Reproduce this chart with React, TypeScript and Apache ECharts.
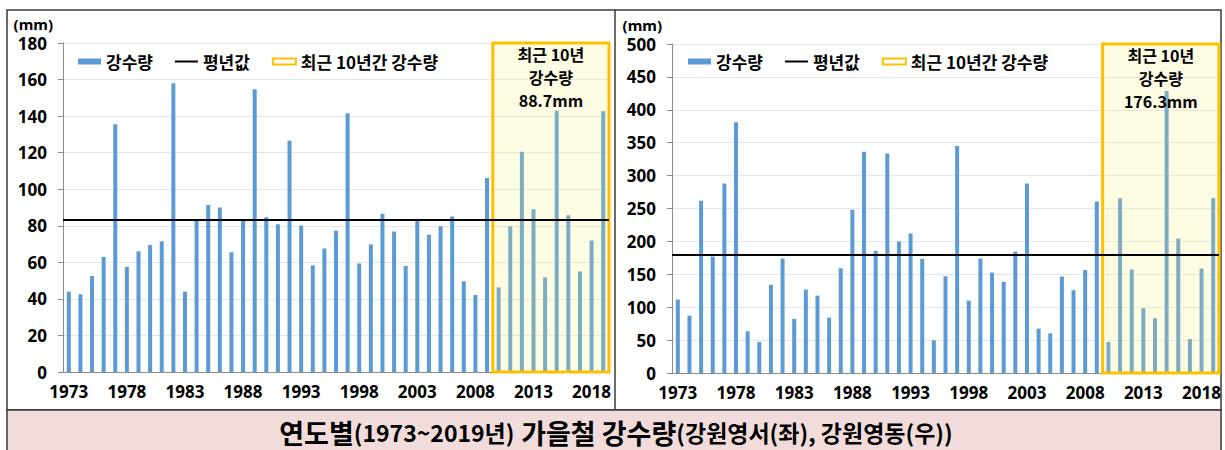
import { useEffect, useRef } from 'react';
import * as echarts from 'echarts';

const years = [
  '1973', '1974', '1975', '1976', '1977', '1978', '1979', '1980', '1981', '1982',
  '1983', '1984', '1985', '1986', '1987', '1988', '1989', '1990', '1991', '1992',
  '1993', '1994', '1995', '1996', '1997', '1998', '1999', '2000', '2001', '2002',
  '2003', '2004', '2005', '2006', '2007', '2008', '2009', '2010', '2011', '2012',
  '2013', '2014', '2015', '2016', '2017', '2018', '2019',
];

// 강원영서 (left)
const westRain = [
  44, 42.5, 52.5, 63, 135.5, 57.5, 66, 69.5, 71.5, 158,
  44, 83, 91.3, 90, 65.5, 83, 154.7, 84.6, 80.9, 126.5,
  80.2, 58.3, 67.6, 77.3, 141.6, 59.4, 69.8, 86.6, 76.9, 58,
  82.9, 75.1, 79.8, 85.1, 49.6, 42.1, 106.2, 46.3, 79.8, 120.5,
  89.1, 51.8, 142.9, 85.8, 55, 72, 142.7,
];

// 강원영동 (right)
const eastRain = [
  111.6, 87.2, 261.7, 177, 288, 381, 63.4, 47.2, 133.9, 173.9,
  82.2, 126.8, 117.6, 84.2, 159.2, 248, 336.2, 185.6, 333.6, 199.8,
  212, 173.4, 49.7, 147, 345, 110, 174, 152.6, 138.4, 184.6,
  288, 67.4, 60.3, 146.6, 125.8, 156.7, 260.6, 47.2, 265.7, 157.2,
  98.4, 83.2, 428.4, 204.4, 51.7, 158.7, 265.7,
];

const westNormal = 83.2;
const eastNormal = 179;
const westRecentLabel = '최근 10년\n강수량\n88.7mm';
const eastRecentLabel = '최근 10년\n강수량\n176.3mm';
const recentStartYear = '2010';

const westAxis = { max: 180, interval: 20 };
const eastAxis = { max: 500, interval: 50 };

const NAME_RAIN = '강수량';
const NAME_NORMAL = '평년값';
const NAME_RECENT = '최근 10년간 강수량';

const titleText =
  '{a|연도별}{b|(1973~2019년)}  {a|가을철 강수량}{b|(강원영서(좌), 강원영동(우))}';

const BLUE = '#5B9BD5';
const YELLOW = '#FFC000';
const KFONT = "'Noto Sans CJK KR', 'Noto Sans', sans-serif";
const NFONT = "'Noto Sans', 'Noto Sans CJK KR', sans-serif";

export default function App() {
  const ref = useRef<HTMLDivElement>(null);

  useEffect(() => {
    if (!ref.current) return;
    const chart = echarts.init(ref.current, undefined, { renderer: 'svg' });
    const recentIdx = years.indexOf(recentStartYear);

    const grids = [
      { left: 63, top: 43, width: 546, height: 329 },
      { left: 672, top: 44, width: 547, height: 329 },
    ];

    const catAxis = (gridIndex: number) => ({
      type: 'category',
      gridIndex,
      data: years,
      boundaryGap: true,
      axisLine: { lineStyle: { color: '#8C8C8C', width: 1 } },
      axisTick: { interval: 4, length: 5, lineStyle: { color: '#8C8C8C' } },
      axisLabel: {
        interval: 4,
        margin: 11,
        color: '#000',
        fontFamily: NFONT,
        fontWeight: 'bold',
        fontSize: 17,
      },
    });

    const valAxis = (gridIndex: number, ax: { max: number; interval: number }) => ({
      type: 'value',
      gridIndex,
      min: 0,
      max: ax.max,
      interval: ax.interval,
      name: '(mm)',
      nameLocation: 'end',
      nameGap: 12,
      nameTextStyle: {
        align: 'right',
        padding: [0, 10, 0, 0],
        color: '#000',
        fontFamily: NFONT,
        fontWeight: 'bold',
        fontSize: 15,
      },
      axisLine: { show: true, lineStyle: { color: '#8C8C8C' } },
      axisTick: { show: true, length: 5, lineStyle: { color: '#8C8C8C' } },
      splitLine: { lineStyle: { color: '#E6E6E6' } },
      axisLabel: {
        margin: 16,
        color: '#000',
        fontFamily: NFONT,
        fontWeight: 'bold',
        fontSize: 17,
      },
    });

    const bandAxis = (gridIndex: number) => ({
      type: 'value',
      gridIndex,
      min: 0,
      max: years.length,
      show: false,
    });

    const makeSeries = (
      idx: number,
      values: number[],
      normal: number,
      top: number,
      label: string
    ) => [
      {
        name: NAME_RAIN,
        type: 'bar',
        xAxisIndex: idx,
        yAxisIndex: idx,
        data: values,
        barWidth: 4,
        itemStyle: { color: BLUE },
        z: 2,
      },
      {
        name: NAME_RECENT,
        type: 'line',
        xAxisIndex: idx + 2,
        yAxisIndex: idx,
        data: [],
        symbol: 'none',
        lineStyle: { color: YELLOW },
        z: 4,
        markArea: {
          silent: true,
          z: 3,
          itemStyle: {
            color: 'rgba(255,240,120,0.2)',
            borderColor: YELLOW,
            borderWidth: 3,
          },
          label: {
            show: true,
            position: 'insideTop',
            distance: 1,
            formatter: label,
            color: '#000',
            fontFamily: KFONT,
            fontWeight: 'bold',
            fontSize: 16,
            lineHeight: 23,
            align: 'center',
          },
          data: [[{ xAxis: recentIdx, yAxis: 0 }, { xAxis: years.length, yAxis: top }]],
        },
      },
      {
        name: NAME_NORMAL,
        type: 'line',
        xAxisIndex: idx + 2,
        yAxisIndex: idx,
        data: [],
        symbol: 'none',
        lineStyle: { color: '#000', width: 2 },
        z: 5,
        markLine: {
          silent: true,
          z: 5,
          symbol: 'none',
          label: { show: false },
          lineStyle: { color: '#000', width: 2, type: 'solid' },
          data: [{ yAxis: normal }],
        },
      },
    ];

    const legendBase = {
      top: 48,
      itemWidth: 23,
      itemHeight: 6,
      itemGap: 22,
      selectedMode: false,
      textStyle: {
        color: '#000',
        fontFamily: KFONT,
        fontWeight: 'bold',
        fontSize: 17,
      },
      data: [
        { name: NAME_RAIN, icon: 'rect' },
        {
          name: NAME_NORMAL,
          icon: 'path://M0,0 L23,0 L23,2 L0,2 Z',
          itemStyle: { color: '#000', borderWidth: 0 },
        },
        {
          name: NAME_RECENT,
          icon: 'rect',
          itemStyle: { color: '#FFFFFF', borderColor: YELLOW, borderWidth: 2 },
        },
      ],
    };

    chart.setOption({
      animation: false,
      backgroundColor: '#FFFFFF',
      grid: grids,
      xAxis: [catAxis(0), catAxis(1), bandAxis(0), bandAxis(1)],
      yAxis: [valAxis(0, westAxis), valAxis(1, eastAxis)],
      legend: [
        { ...legendBase, left: 73 },
        { ...legendBase, left: 683 },
      ],
      series: [
        ...makeSeries(0, westRain, westNormal, westAxis.max, westRecentLabel),
        ...makeSeries(1, eastRain, eastNormal, eastAxis.max, eastRecentLabel),
      ],
      graphic: [
        {
          type: 'rect',
          silent: true,
          z: 0,
          shape: { x: 7, y: 10, width: 1214, height: 400 },
          style: { fill: 'none', stroke: '#3A3A3A', lineWidth: 1.5 },
        },
        {
          type: 'line',
          silent: true,
          shape: { x1: 615, y1: 10, x2: 615, y2: 410 },
          style: { stroke: '#3A3A3A', lineWidth: 1.5 },
        },
        {
          type: 'rect',
          silent: true,
          shape: { x: 7, y: 410, width: 1214, height: 45 },
          style: { fill: '#F2DCDB', stroke: '#3A3A3A', lineWidth: 1.5 },
        },
        {
          type: 'text',
          silent: true,
          x: 616,
          y: 432,
          style: {
            text: titleText,
            align: 'center',
            verticalAlign: 'middle',
            rich: {
              a: {
                fontFamily: KFONT,
                fontWeight: 'bold',
                fontSize: 27,
                lineHeight: 30,
                fill: '#000',
              },
              b: {
                fontFamily: KFONT,
                fontWeight: 'bold',
                fontSize: 23,
                lineHeight: 30,
                fill: '#000',
              },
            },
          },
        },
      ],
    });

    return () => {
      chart.dispose();
    };
  }, []);

  return (
    <div
      ref={ref}
      style={{ position: 'fixed', left: 0, top: 0, width: 1225, height: 450 }}
    />
  );
}
